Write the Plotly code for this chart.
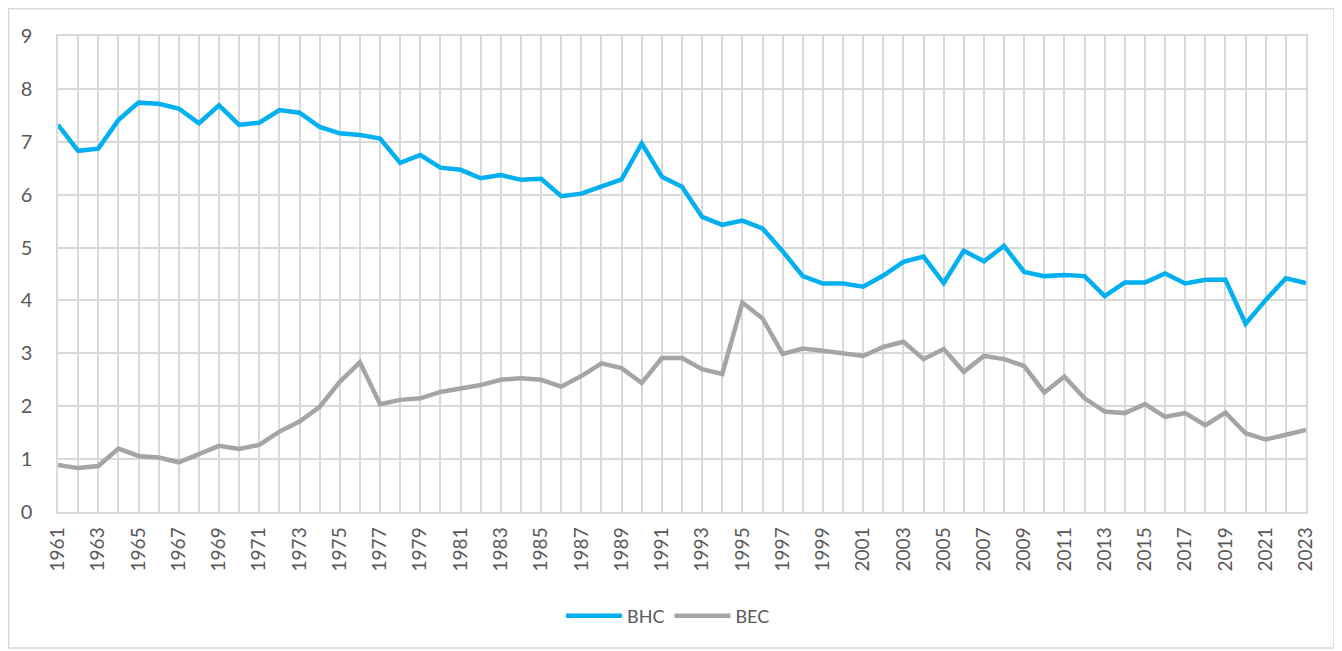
import plotly.graph_objects as go

years = list(range(1961, 2024))
bhc = [7.32, 6.83, 6.87, 7.41, 7.74, 7.72, 7.63, 7.35, 7.69, 7.32,
       7.36, 7.60, 7.55, 7.28, 7.16, 7.13, 7.06, 6.60, 6.75, 6.51,
       6.47, 6.31, 6.37, 6.28, 6.30, 5.97, 6.02, 6.15, 6.29, 6.97,
       6.34, 6.15, 5.58, 5.43, 5.51, 5.36, 4.93, 4.46, 4.32, 4.32,
       4.26, 4.47, 4.73, 4.83, 4.33, 4.94, 4.74, 5.03, 4.54, 4.46,
       4.48, 4.46, 4.08, 4.34, 4.34, 4.51, 4.32, 4.39, 4.39, 3.56,
       4.01, 4.42, 4.33]
bec = [0.89, 0.83, 0.87, 1.20, 1.06, 1.03, 0.94, 1.10, 1.25, 1.19,
       1.27, 1.52, 1.71, 1.99, 2.46, 2.83, 2.04, 2.12, 2.15, 2.27,
       2.34, 2.40, 2.50, 2.53, 2.50, 2.37, 2.57, 2.81, 2.72, 2.44,
       2.91, 2.91, 2.70, 2.61, 3.96, 3.66, 2.99, 3.09, 3.05, 2.99,
       2.95, 3.12, 3.22, 2.89, 3.08, 2.65, 2.95, 2.89, 2.76, 2.26,
       2.56, 2.15, 1.90, 1.87, 2.04, 1.80, 1.87, 1.64, 1.88, 1.49,
       1.37, 1.46, 1.55]
tick_text = [str(y) if (y - 1961) % 2 == 0 else "" for y in years]
y_ticks = list(range(0, 10))

FONT = "Lato, Open Sans, sans-serif"
GRID = "#D9D9D9"
TXT = "#595959"

fig = go.Figure()
fig.add_trace(go.Scatter(x=years, y=bhc, mode="lines", name="BHC",
                         line=dict(color="#00B0F0", width=4.5)))
fig.add_trace(go.Scatter(x=years, y=bec, mode="lines", name="BEC",
                         line=dict(color="#A5A5A5", width=4.5)))

OFF = 8  # page body margin
W, H = 1334, 643
L, T = 58 - OFF, 36 - OFF
pw, ph = 1248, 476
R = W - L - pw
B = H - T - ph

def px_x(p):
    return (p - OFF - L) / pw

def px_y(p):
    return (T + ph - (p - OFF)) / ph

fig.add_shape(type="rect", xref="paper", yref="paper",
              x0=px_x(OFF + 0.75), x1=px_x(1334), y0=px_y(648), y1=px_y(OFF + 0.75),
              line=dict(color="#D9D9D9", width=1.5), layer="below")

fig.update_layout(
    width=W, height=H,
    margin=dict(l=L, r=R, t=T, b=B, autoexpand=False),
    paper_bgcolor="white", plot_bgcolor="white",
    font=dict(family=FONT, color=TXT),
    showlegend=True,
    legend=dict(orientation="h", x=px_x(668), xanchor="center",
                y=px_y(616), yanchor="middle",
                font=dict(size=18, color=TXT), itemwidth=56,
                traceorder="normal"),
    xaxis=dict(range=[1961, 2023], tickmode="array", tickvals=years,
               ticktext=tick_text, tickangle=-90,
               showgrid=True, gridcolor=GRID, gridwidth=1.5,
               showline=True, linecolor=GRID, linewidth=1.5, mirror=True,
               ticks="", ticklabelstandoff=6,
               tickfont=dict(size=19, color=TXT), zeroline=False),
    yaxis=dict(range=[0, 9], tickmode="array", tickvals=y_ticks,
               showgrid=True, gridcolor=GRID, gridwidth=1.5,
               showline=True, linecolor=GRID, linewidth=1.5, mirror=True,
               ticks="", ticklabelstandoff=20,
               tickfont=dict(size=20, color=TXT), zeroline=False),
)

fig.write_html("out.html")
